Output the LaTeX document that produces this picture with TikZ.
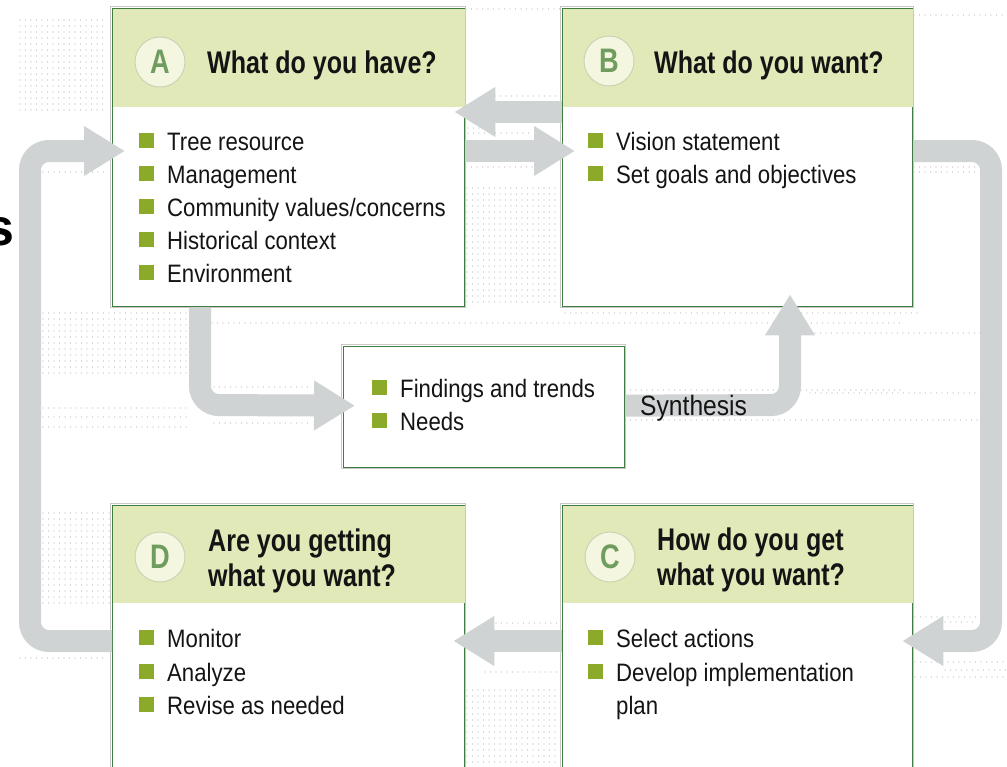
\documentclass[tikz,border=0pt]{standalone}
\usepackage{fontspec}
\setmainfont{Liberation Sans}
\newfontfamily\bodyf{Liberation Sans}[FakeStretch=0.88]
\newfontfamily\titlef{Liberation Sans}[FakeStretch=0.8]
\usetikzlibrary{arrows.meta,calc}
\definecolor{hdr}{HTML}{E2E9B9}
\definecolor{bulg}{HTML}{8BAA2A}
\definecolor{bordg}{HTML}{3F7D3F}
\definecolor{arrg}{HTML}{CFD3D3}
\definecolor{circf}{HTML}{F4F6DF}
\definecolor{circd}{HTML}{CBD2B5}
\definecolor{lettg}{HTML}{6F9C5F}
\definecolor{dotg}{HTML}{B4B4B4}
\definecolor{txt}{HTML}{141414}
\newcommand{\bul}{\textcolor{bulg}{\rule[2pt]{15pt}{15pt}}\hspace{13pt}}
\begin{document}
\begin{tikzpicture}[x=1pt,y=-1pt,
  box/.style={draw=bordg, line width=1.3pt, fill=white, inner sep=0pt, anchor=north west},
  halo/.style={draw=black!22, line width=1pt},
  arr/.style={draw=arrg, line width=22pt, rounded corners=19pt, -{Triangle[length=41pt,width=47pt]}},
  ttl/.style={inner sep=0pt, anchor=base west, text=txt, font=\titlef\bfseries\fontsize{31.3}{35}\selectfont},
  itm/.style={inner sep=0pt, anchor=base west, text=txt, font=\bodyf\fontsize{25.2}{33}\selectfont},
  lett/.style={circle, fill=circf, draw=circd, line width=1pt, minimum size=50pt, inner sep=0pt, text=lettg, font=\titlef\bfseries\fontsize{34}{34}\selectfont},
  dotrow/.style={draw=dotg, line width=1.4pt, line cap=round, dash pattern=on 0pt off 5.5pt}
]
\useasboundingbox (0,0) rectangle (1007,766);
% ---- dotted background screens ----
\foreach \yy in {20,26,...,110} \draw[dotrow] (20,\yy) -- (107,\yy);
\foreach \yy in {188,194,...,302} \draw[dotrow] (467,\yy) -- (560,\yy);
\foreach \yy in {313,319,...,377} \draw[dotrow] (43,\yy) -- (188,\yy);
\foreach \yy in {513,519,...,605} \draw[dotrow] (43,\yy) -- (110,\yy);
\foreach \yy in {690,696,...,766} \draw[dotrow] (467,\yy) -- (560,\yy);
\foreach \xa/\xb/\yy in {466/560/9, 914/1007/15, 43/108/172, 495/560/96, 468/493/128,
  468/530/133, 466/533/167, 914/978/167, 914/978/172, 565/920/313, 212/900/323,
  815/985/333, 214/311/387, 43/188/408, 43/188/417, 43/188/427, 214/311/423,
  625/900/390, 810/985/393, 625/985/420, 20/105/658, 496/560/623, 485/560/672,
  915/978/617, 945/975/622, 915/1007/662, 945/1007/670, 915/1007/677}
  \draw[dotrow] (\xa,\yy) -- (\xb,\yy);
% ---- stray cropped letter ----
\node[inner sep=0pt, anchor=base west, font=\bfseries\fontsize{52}{52}\selectfont] (s) at (-15,245) {s};
% ---- boxes ----
\draw[halo] (110.5,6.5) rectangle (465.5,307.5);
\draw[halo] (560.5,6.5) rectangle (913.5,307.5);
\draw[halo] (341.5,344.5) rectangle (625.5,468.5);
\draw[halo] (110.5,503.5) rectangle (465.5,780);
\draw[halo] (560.5,503.5) rectangle (913.5,780);
\node[box, minimum width=352pt, minimum height=298pt] (A) at (112,8) {};
\node[box, minimum width=350pt, minimum height=298pt] (B) at (562,8) {};
\node[box, minimum width=281pt, minimum height=121pt] (M) at (343,346) {};
\node[box, minimum width=352pt, minimum height=275pt] (D) at (112,505) {};
\node[box, minimum width=350pt, minimum height=275pt] (C) at (562,505) {};
\foreach \n in {A,B} \fill[hdr] ($(\n.north west)+(0.65,0.65)$) rectangle ($(\n.north east)+(-0.65,99)$);
\foreach \n in {D,C} \fill[hdr] ($(\n.north west)+(0.65,0.65)$) rectangle ($(\n.north east)+(-0.65,98)$);
% ---- headers ----
\node[lett] (cA) at (160,62) {A};
\node[lett] (cB) at (609,61) {B};
\node[lett] (cD) at (160,557) {D};
\node[lett] (cC) at (610,557) {C};
\node[ttl] (tA) at (207,73) {What do you have?};
\node[ttl] (tB) at (654,73) {What do you want?};
\node[ttl] (tD1) at (208,551) {Are you getting};
\node[ttl] (tD2) at (208,586) {what you want?};
\node[ttl] (tC1) at (657,550) {How do you get};
\node[ttl] (tC2) at (657,585) {what you want?};
% ---- items ----
\node[itm] (a1) at (139,150) {\bul Tree resource};
\node[itm] (a2) at (139,183) {\bul Management};
\node[itm] (a3) at (139,216) {\bul Community values/concerns};
\node[itm] (a4) at (139,249) {\bul Historical context};
\node[itm] (a5) at (139,282) {\bul Environment};
\node[itm] (b1) at (588,150) {\bul Vision statement};
\node[itm] (b2) at (588,183) {\bul Set goals and objectives};
\node[itm] (m1) at (372,397) {\bul Findings and trends};
\node[itm] (m2) at (372,430) {\bul Needs};
\node[itm] (d1) at (139,647) {\bul Monitor};
\node[itm] (d2) at (139,681) {\bul Analyze};
\node[itm] (d3) at (139,714) {\bul Revise as needed};
\node[itm] (c1) at (588,647) {\bul Select actions};
\node[itm] (c2) at (588,681) {\bul Develop implementation};
\node[itm] (c3) at (616,714) {plan};
% ---- arrows ----
\draw[arr] ($(B.north west)+(0,104)$) -- ($(A.north east)+(-11,104)$);
\draw[arr] ($(A.north east)+(0,143)$) -- ($(B.north west)+(13,143)$);
\draw[arr] ($(D.north west)+(0,136)$) -- (30,641) -- (30,151) -- ($(A.north west)+(13,143)$);
\draw[arr] ($(A.south west)+(88,0)$) -- (200,405) -- ($(M.west)+(12,-1.5)$);
\draw[arr] ($(M.east)+(0,-1.5)$) -- (790,405) -- ($(B.south west)+(228,-13)$);
\draw[arr] ($(B.north east)+(0,143)$) -- (991,151) -- (991,641) -- ($(C.north east)+(-11,136)$);
\draw[arr] ($(C.north west)+(0,136)$) -- ($(D.north east)+(-12,136)$);
\node[itm, font=\bodyf\fontsize{28}{28}\selectfont] (syn) at (640,415) {Synthesis};
\end{tikzpicture}
\end{document}
